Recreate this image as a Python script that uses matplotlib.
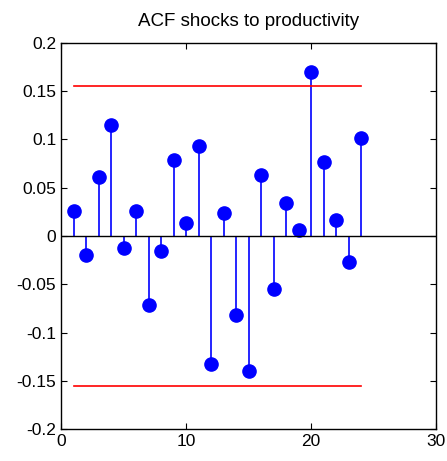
import numpy as np
import matplotlib
matplotlib.use('Agg')
import matplotlib.pyplot as plt

plt.rcParams['font.family'] = ['Liberation Sans', 'DejaVu Sans']

# autocorrelations
lags = np.arange(1, 25)
acf = [0.026, -0.020, 0.061, 0.115, -0.012, 0.026, -0.071, -0.016,
       0.079, 0.014, 0.093, -0.133, 0.024, -0.082, -0.140, 0.063,
       -0.055, 0.034, 0.006, 0.170, 0.077, 0.017, -0.027, 0.101]
band = 0.155

yticks = [-0.2, -0.15, -0.1, -0.05, 0, 0.05, 0.1, 0.15, 0.2]
ylabels = ['-0.2', '-0.15', '-0.1', '-0.05', '0', '0.05', '0.1', '0.15', '0.2']
xticks = [0, 10, 20, 30]

fig = plt.figure(figsize=(4.47, 4.61), dpi=100)
ax = fig.add_axes([0.1365, 0.069, 0.839, 0.838])

ml, sl, bl = ax.stem(lags, acf, linefmt='b-', markerfmt='bo', basefmt='k-')
plt.setp(sl, linewidth=1.2, color='#0000ff')
plt.setp(ml, markersize=9.5, color='#0000ff')
bl.set_visible(False)
ax.axhline(0, color='black', linewidth=1)

ax.plot([lags[0], lags[-1]], [band, band], color='red', linewidth=1.2)
ax.plot([lags[0], lags[-1]], [-band, -band], color='red', linewidth=1.2)

ax.set_xlim(0, 30)
ax.set_ylim(-0.2, 0.2)
ax.set_xticks(xticks)
ax.set_yticks(yticks)
ax.set_yticklabels(ylabels)
ax.tick_params(direction='in', top=True, right=True, labelsize=12.5, length=4)
for s in ax.spines.values():
    s.set_linewidth(1)

ax.set_title('ACF shocks to productivity', fontsize=13.5, pad=12)

fig.savefig('out.png', dpi=100)
